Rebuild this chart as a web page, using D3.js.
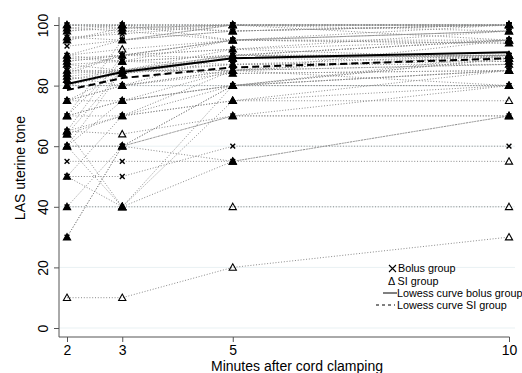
<!DOCTYPE html>
<html><head><meta charset="utf-8">
<script src="https://cdn.jsdelivr.net/npm/d3@7"></script>
<style>body{margin:0;background:#fff}svg{display:block}text{font-family:"Liberation Sans",Arial,Helvetica,sans-serif}</style>
</head><body><svg id="c" width="522" height="373"></svg>
<script>
const times = [2, 3, 5, 10];
const yTicks = [0, 20, 40, 60, 80, 100];
const bolus = [
  [100,100,100,100],[99,100,100,100],[98,99,98,100],[96,97,100,98],[95,98,95,95],
  [93,95,100,100],[90,95,98,100],[89,90,95,94],[88,90,92,95],[87,88,90,90],
  [85,85,90,89],[84,90,89,90],[83,85,87,88],[82,84,89,90],[80,85,85,87],
  [80,80,84,85],[75,84,90,95],[70,75,80,90],[65,70,80,85],[60,75,85,90],
  [55,55,55,70],[50,50,60,60],[40,60,70,80],[30,60,80,89],[100,99,100,100],
  [90,88,87,87],[75,80,85,80],[85,90,95,98],[65,90,95,100],[50,70,85,95],
  [70,95,100,100],[60,85,92,98]
];
const si = [
  [100,100,100,100],[99,98,100,100],[98,100,95,98],[96,95,98,100],[95,99,100,95],
  [90,92,95,94],[89,88,90,90],[88,90,92,89],[87,85,89,88],[85,84,87,90],
  [84,85,85,87],[83,80,90,95],[82,85,84,85],[80,80,80,80],[80,84,89,90],
  [75,75,80,85],[70,70,75,75],[65,64,70,70],[64,70,75,80],[60,60,70,70],
  [50,40,55,55],[40,40,40,40],[30,60,80,80],[10,10,20,30],[60,60,55,70],
  [75,80,85,90],[100,100,98,100],[70,75,80,85],[65,40,75,85],[70,88,95,98],
  [64,85,90,95],[60,40,80,89]
];
const lowessBolus = [80.5, 84.5, 89, 91];
const lowessSI = [78.5, 82.5, 86, 89];
const legendLabels = ["Bolus group", "SI group", "Lowess curve bolus group", "Lowess curve SI group"];

const svg = d3.select("#c");
const x = d3.scaleLinear().domain([2, 10]).range([67, 509]);
const y = d3.scaleLinear().domain([0, 100]).range([328, 25]);
const left = 59, bottom = 337;

// gridlines
svg.append("g").selectAll("line").data(yTicks).join("line")
  .attr("x1", left).attr("x2", 515).attr("y1", d => y(d)).attr("y2", d => y(d))
  .attr("stroke", "#e9f1f3").attr("stroke-width", 1);

// axes
const yAxis = d3.axisLeft(y).tickValues(yTicks).tickSize(5).tickPadding(3);
const gy = svg.append("g").attr("transform", `translate(${left},0)`).call(yAxis);
gy.select(".domain").remove();
gy.append("line").attr("x1", 0).attr("x2", 0).attr("y1", y(-3)).attr("y2", y(102.6)).attr("stroke", "#555");
gy.selectAll(".tick line").attr("stroke", "#555");
gy.selectAll(".tick text").attr("font-size", 14).attr("fill", "#000")
  .attr("x", null).attr("dy", null)
  .attr("transform", "translate(-11,0) rotate(-90)").attr("text-anchor", "middle");

const xAxis = d3.axisBottom(x).tickValues(times).tickSize(5).tickPadding(3);
const gx = svg.append("g").attr("transform", `translate(0,${bottom})`).call(xAxis);
gx.select(".domain").remove();
gx.append("line").attr("x1", left).attr("x2", 509.5).attr("y1", 0).attr("y2", 0).attr("stroke", "#555");
gx.selectAll(".tick line").attr("stroke", "#555");
gx.selectAll(".tick text").attr("font-size", 14).attr("fill", "#000");

// titles
svg.append("text").attr("x", 297).attr("y", 371).attr("text-anchor", "middle")
  .attr("font-size", 14).text("Minutes after cord clamping");
svg.append("text").attr("transform", "translate(25,168) rotate(-90)").attr("text-anchor", "middle")
  .attr("font-size", 14).text("LAS uterine tone");

// subject lines
const line = d3.line().x((d, i) => x(times[i])).y(d => y(d));
const allSubj = bolus.concat(si);
svg.append("g").selectAll("path").data(allSubj).join("path")
  .attr("d", line).attr("fill", "none").attr("stroke", "#8a8a8a")
  .attr("stroke-width", 1).attr("stroke-dasharray", "1,1.8");

// lowess curves
svg.append("path").attr("d", line(lowessBolus)).attr("fill", "none").attr("stroke", "#000").attr("stroke-width", 2);
svg.append("path").attr("d", line(lowessSI)).attr("fill", "none").attr("stroke", "#000").attr("stroke-width", 2).attr("stroke-dasharray", "7,4");

// markers
const count = {};
allSubj.forEach(s => s.forEach((v, i) => { const k = i + "_" + v; count[k] = (count[k] || 0) + 1; }));
const bPts = [], sPts = [];
bolus.forEach(s => s.forEach((v, i) => bPts.push({t: times[i], v})));
si.forEach(s => s.forEach((v, i) => sPts.push({t: times[i], v, k: i + "_" + v})));

svg.append("g").selectAll("path").data(bPts).join("path")
  .attr("transform", d => `translate(${x(d.t)},${y(d.v)})`)
  .attr("d", "M-2.4,-2.4L2.4,2.4M-2.4,2.4L2.4,-2.4")
  .attr("stroke", "#000").attr("stroke-width", 1.4).attr("fill", "none");

svg.append("g").selectAll("path").data(sPts).join("path")
  .attr("transform", d => `translate(${x(d.t)},${y(d.v)})`)
  .attr("d", "M0,-3.6L3.6,2.8L-3.6,2.8Z")
  .attr("stroke", "#000").attr("stroke-width", 1.1)
  .attr("fill", d => count[d.k] > 1 ? "#000" : "none");

// legend
const lg = svg.append("g").attr("font-size", 10.8);
lg.append("path").attr("d", "M389,265L396,272M389,272L396,265").attr("stroke", "#000").attr("stroke-width", 1.1);
lg.append("text").attr("x", 398).attr("y", 272).text(legendLabels[0]);
lg.append("text").attr("x", 388).attr("y", 285).text("\u0394 " + legendLabels[1]);
lg.append("line").attr("x1", 383).attr("x2", 397).attr("y1", 293).attr("y2", 293).attr("stroke", "#000").attr("stroke-width", 1);
lg.append("text").attr("x", 397).attr("y", 297).text(legendLabels[2]);
lg.append("line").attr("x1", 376).attr("x2", 395).attr("y1", 305).attr("y2", 305).attr("stroke", "#000").attr("stroke-width", 1).attr("stroke-dasharray", "3,3");
lg.append("text").attr("x", 397).attr("y", 309).text(legendLabels[3]);
</script></body></html>
